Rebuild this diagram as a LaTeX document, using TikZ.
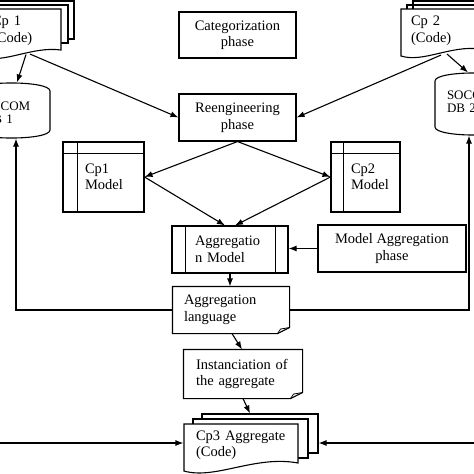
\documentclass[tikz,border=0pt]{standalone}
\usepackage{fontspec}
\setmainfont{Liberation Serif}
\usetikzlibrary{arrows.meta,calc}
\begin{document}
\begin{tikzpicture}[x=1pt,y=-1pt,line width=1.1pt,
  every node/.style={font=\fontsize{14.5}{16.5}\selectfont, inner sep=0pt},
  box/.style={draw, align=center},
  lbox/.style={draw, align=left},
  shp/.style={draw=none, align=left},
  dbtext/.style={draw=none, align=left, font=\fontsize{13}{13}\selectfont},
  arr/.style={-{Latex[length=8pt,width=6pt]}},
  outline/.style={fill=white, line join=miter},
  noteline/.style={line join=miter}]
\useasboundingbox (0,0) rectangle (474,474);
\clip (0,0) rectangle (474,474);

% ---- Cp 1 (Code) multidocument
\draw (-5,9) -- (-5,1) -- (74,1) -- (74,39) -- (68,39);
\draw (-11,9) -- (-11,5) -- (68,5) -- (68,43) -- (61,43);
\draw[outline] (-18,9) -- (61,9) -- (61,50) .. controls (32,46) and (4,64) .. (-18,57) -- cycle;
\node[shp, minimum width=79pt, minimum height=43pt, text width=59pt] (cp1code) at (21.5,30.5) {Cp 1\\(Code)};

% ---- Cp 2 (Code) multidocument
\draw (413,9) -- (413,1) -- (495,1);
\draw (407,9) -- (407,5) -- (495,5);
\draw[outline] (401,9) -- (480,9) -- (480,49) .. controls (451,45) and (423,63) .. (401,56) -- cycle;
\node[shp, minimum width=79pt, minimum height=43pt, text width=59pt] (cp2code) at (440.5,30.5) {Cp 2\\(Code)};

% ---- SOCOM DB 1 cylinder
\draw (-27,91) -- (-27,130) .. controls (-27,140.7) and (50,140.7) .. (50,130) -- (50,91) .. controls (50,80.3) and (-27,80.3) .. (-27,91);
\node[dbtext, minimum width=77pt, minimum height=51pt, text width=55pt] (db1) at (11.5,112.5) {SOCOM\\DB 1};

% ---- SOCOM DB 2 cylinder
\draw (435,81) -- (435,127) .. controls (435,137.7) and (512,137.7) .. (512,127) -- (512,81) .. controls (512,70.3) and (435,70.3) .. (435,81);
\node[dbtext, minimum width=77pt, minimum height=58pt, text width=53pt] (db2) at (473.5,102) {SOCOM\\DB 2};

% ---- phases
\node[box, minimum width=117pt, minimum height=46pt] (cat) at (237.5,35) {Categorization\\phase};
\node[box, minimum width=117pt, minimum height=47pt] (reeng) at (237.5,117.5) {Reengineering\\phase};

% ---- models
\node[lbox, minimum width=81pt, minimum height=70pt, text width=37pt] (cp1m) at (103.5,177) {Cp1\\Model};
\draw ([xshift=15pt]cp1m.north west) -- ([xshift=15pt]cp1m.south west);
\draw ([yshift=-12pt]cp1m.north west) -- ([yshift=-12pt]cp1m.north east);

\node[lbox, minimum width=69pt, minimum height=70pt, text width=29pt] (cp2m) at (365.5,177) {Cp2\\Model};
\draw ([xshift=13pt]cp2m.north west) -- ([xshift=13pt]cp2m.south west);
\draw ([yshift=-12pt]cp2m.north west) -- ([yshift=-12pt]cp2m.north east);

\node[lbox, minimum width=116pt, minimum height=47pt, text width=70pt] (aggm) at (230,249.5) {Aggregatio\\n Model};
\draw ([xshift=14pt]aggm.north west) -- ([xshift=14pt]aggm.south west);
\draw ([xshift=-13pt]aggm.north east) -- ([xshift=-13pt]aggm.south east);

\node[box, minimum width=148pt, minimum height=47pt] (maph) at (392,248.5) {Model Aggregation\\phase};

% ---- notes
\node[shp, minimum width=116pt, minimum height=46pt, text width=94pt] (agglang) at (231,310) {Aggregation\\language};
\draw[noteline] (agglang.north west) -- (agglang.north east) -- ([yshift=6pt]agglang.south east) -- ([xshift=-12pt]agglang.south east) -- (agglang.south west) -- cycle;
\draw[line width=0.8pt] ([xshift=-12pt]agglang.south east) -- ([xshift=-9pt,yshift=4.5pt]agglang.south east) -- ([yshift=6pt]agglang.south east);

\node[shp, minimum width=118pt, minimum height=48pt, text width=94pt] (inst) at (243,374) {Instanciation of\\the aggregate};
\draw[noteline] (inst.north west) -- (inst.north east) -- ([yshift=6pt]inst.south east) -- ([xshift=-12pt]inst.south east) -- (inst.south west) -- cycle;
\draw[line width=0.8pt] ([xshift=-12pt]inst.south east) -- ([xshift=-9pt,yshift=4.5pt]inst.south east) -- ([yshift=6pt]inst.south east);

% ---- Cp3 Aggregate multidocument
\draw (202,419) -- (202,414) -- (318,414) -- (318,453) -- (308,453);
\draw (193,424) -- (193,419) -- (308,419) -- (308,458) -- (298,458);
\draw[outline] (184,424) -- (298,424) -- (298,463) .. controls (255,455) and (215,480) .. (184,471) -- cycle;
\node[shp, minimum width=114pt, minimum height=42pt, text width=90pt] (cp3) at (241,445) {Cp3 Aggregate\\(Code)};

% ---- connectors
\draw[arr] ([xshift=4.5pt,yshift=-2pt]cp1code.south) -- ([xshift=5.5pt,yshift=4pt]db1.north);
\draw[arr] ([xshift=8.5pt,yshift=-1.5pt]cp1code.south) -- (reeng.west);
\draw[arr] ([xshift=6.5pt,yshift=-1.5pt]cp2code.south) -- ([xshift=-5.5pt]db2.north);
\draw[arr] ([xshift=0.5pt,yshift=-2.5pt]cp2code.south) -- (reeng.east);
\draw[arr] (reeng.south) -- (cp1m.east);
\draw[arr] (reeng.south) -- (cp2m.west);
\draw[arr] (cp1m.east) -- ([xshift=-5pt]aggm.north);
\draw[arr] (cp2m.west) -- ([xshift=5pt]aggm.north);
\draw[arr] (maph.west) -- (maph.west -| aggm.east);
\draw[arr] (aggm.south) -- (aggm.south |- agglang.north);
\draw[arr] ([xshift=1pt]agglang.south) -- ([xshift=-1pt]inst.north);
\draw[arr] (inst.south) -- ([xshift=9pt,yshift=10pt]cp3.north);
\draw[arr] (agglang.west) -| ([xshift=4.5pt]db1.south);
\draw[arr] (agglang.east) -| ([xshift=-4.5pt,yshift=-4pt]db2.south);
\coordinate (lin) at (-5,443);
\coordinate (rin) at (480,443);
\draw[arr] (lin) -- ([yshift=2pt]cp3.west);
\draw[arr] (rin) -- ([xshift=20pt,yshift=2pt]cp3.east);
\end{tikzpicture}
\end{document}
